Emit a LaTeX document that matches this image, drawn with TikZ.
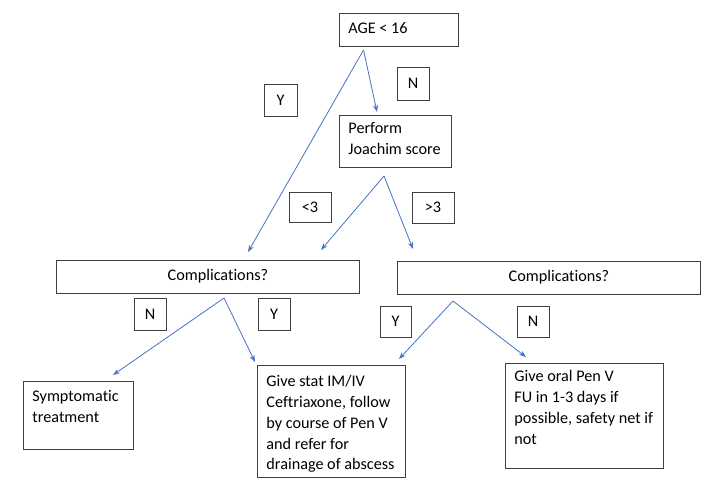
\documentclass[tikz,border=0pt]{standalone}
\usepackage{fontspec}
\setmainfont{Carlito}[Ligatures=NoCommon]
\usetikzlibrary{arrows.meta}
\definecolor{flowblue}{HTML}{4472C4}

\begin{document}
\begin{tikzpicture}[x=1pt,y=-1pt,
    box/.style={draw=black!75,line width=0.9pt,anchor=north west,inner xsep=9pt,inner ysep=0pt,
        align=flush left,text height=20pt,font=\fontsize{16.2}{20.7}\selectfont},
    tag/.style={draw=black!75,line width=0.9pt,inner sep=0pt,font=\fontsize{16.2}{20.7}\selectfont},
    flow/.style={-{Stealth[length=7pt,width=5pt]},draw=flowblue,line width=0.8pt}]
    \useasboundingbox (0,0) rectangle (715,488);
    \node [box,text width=101pt,text depth=13pt] (age) at (339,13) {AGE~<~16};
    \node [box,text width=94pt,text height=18.5pt,text depth=33.5pt] (joachim) at (339,115) {Perform\\Joachim~score};
    \node [box,text width=285pt,text depth=13pt,align=center] (complL) at (56,260) {\hspace*{20pt}Complications?};
    \node [box,text width=285pt,text depth=13pt,align=center] (complR) at (397,261) {\hspace*{20pt}Complications?};
    \node [box,text width=92pt,text height=20.5pt,text depth=47.5pt] (sympt) at (23,381) {Symptomatic\\treatment};
    \node [box,text width=130pt,text height=21.5pt,text depth=90.5pt] (ceftri) at (257,365) {Give~stat~IM/IV\\Ceftriaxone,~follow\\by~course~of~Pen~V\\and~refer~for\\drainage~of~abscess};
    \node [box,text width=140pt,text height=18.5pt,text depth=86.5pt] (penv) at (505,363) {Give~oral~Pen~V\\FU~in~1-3~days~if\\possible,~safety~net~if\\not};
    \node [tag,minimum width=33pt,minimum height=32pt] (ageY) at (280.5,100) {Y};
    \node [tag,minimum width=32pt,minimum height=33pt] (ageN) at (413,83.5) {N};
    \node [tag,minimum width=42pt,minimum height=30pt] (scoreLow) at (310,207) {<3};
    \node [tag,minimum width=42pt,minimum height=31pt] (scoreHigh) at (433,207.5) {>3};
    \node [tag,minimum width=32pt,minimum height=32pt] (complLN) at (150,314) {N};
    \node [tag,minimum width=32pt,minimum height=32pt] (complLY) at (274,314) {Y};
    \node [tag,minimum width=31pt,minimum height=31pt] (complRY) at (395.5,321.5) {Y};
    \node [tag,minimum width=32pt,minimum height=31pt] (complRN) at (533,321.5) {N};
    \coordinate (AF) at (363.5,50);
    \coordinate (JF) at (384,176);
    \coordinate (LF) at (224,298);
    \coordinate (RF) at (453,301);
    \coordinate (AJ) at (377,112);
    \coordinate (AL) at (248,252);
    \coordinate (JL) at (321,250);
    \coordinate (JR) at (413,249);
    \coordinate (LS) at (113,375);
    \coordinate (LC) at (255,362);
    \coordinate (RC) at (399,359);
    \coordinate (RP) at (526,357);
    \draw [flow] (AF) -- (AJ);
    \draw [flow] (AF) -- (AL);
    \draw [flow] (JF) -- (JL);
    \draw [flow] (JF) -- (JR);
    \draw [flow] (LF) -- (LS);
    \draw [flow] (LF) -- (LC);
    \draw [flow] (RF) -- (RC);
    \draw [flow] (RF) -- (RP);
\end{tikzpicture}
\end{document}
